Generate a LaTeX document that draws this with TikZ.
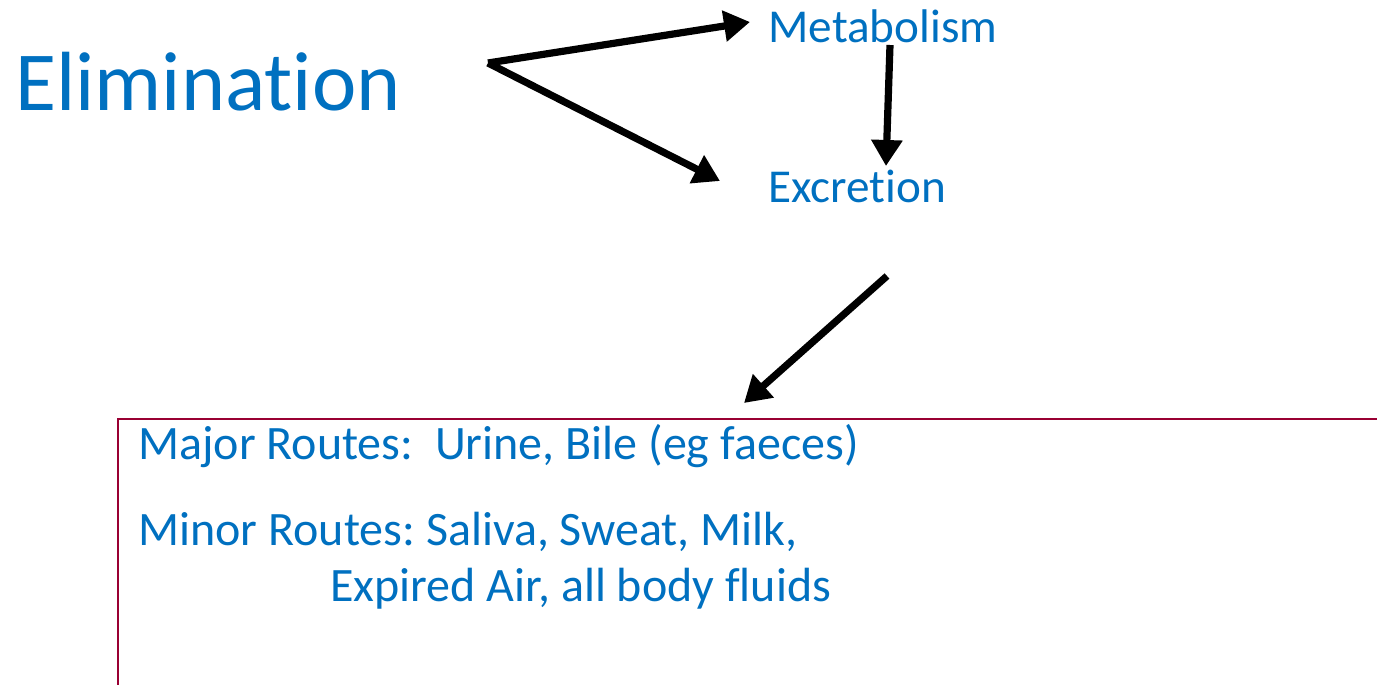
\documentclass[tikz,border=0pt]{standalone}
\usepackage{fontspec}
\setmainfont{Carlito}[Ligatures=NoCommon]
\usepackage{tikz}
\usetikzlibrary{arrows, arrows.meta, positioning, calc}
\frenchspacing

\definecolor{txtblue}{HTML}{0070C0}
\definecolor{boxred}{HTML}{990033}

\tikzset{
    lbl/.style={text=txtblue, anchor=base west, inner sep=0pt},
    bigarrow/.style={line width=3.6pt, -{Triangle[length=13pt, width=15pt]}}
}

\begin{document}
\begin{tikzpicture}[x=0.5pt, y=-0.5pt]
        \clip (0, 0) rectangle (1377, 685);
        
        % Заголовок
        \node[lbl, font=\fontsize{42}{50}\selectfont] (elim) at (15, 110) {Elimination};
        
        % Пути
        \node[lbl, font=\fontsize{23.6}{28}\selectfont] (metab) at (768, 42) {Metabolism};
        \node[lbl, font=\fontsize{23.6}{28}\selectfont] (excr) at (768, 202) {Excretion};
        
        % Концы стрелок
        \coordinate (split) at (488, 63);
        \coordinate (metabtip) at (750, 22);
        \coordinate (excrtip) at (720, 181);
        \coordinate (metabbot) at (890, 45);
        \coordinate (excrtop) at (886, 166);
        \coordinate (excrbot) at (887, 276);
        \coordinate (boxtip) at (744, 403);
        
        % Стрелки
        \draw[bigarrow] (split) -- (metabtip);
        \draw[bigarrow] (split) -- (excrtip);
        \draw[bigarrow] (metabbot) -- (excrtop);
        \draw[bigarrow] (excrbot) -- (boxtip);
        
        % Рамка
        \draw[boxred, line width=1.4pt] (118, 700) -- (118, 419) -- (1400, 419);
        
        % Текст в рамке
        \node[lbl, font=\fontsize{24}{29}\selectfont] (major) at (138, 459) {Major Routes:\ \ Urine, Bile (eg faeces)};
        \node[lbl, font=\fontsize{24}{29}\selectfont] (minor) at (138, 545) {Minor Routes: Saliva, Sweat, Milk,};
        \node[lbl, font=\fontsize{24}{29}\selectfont] (minor2) at (330, 601) {Expired Air, all body fluids};
        
\end{tikzpicture}
\end{document}
